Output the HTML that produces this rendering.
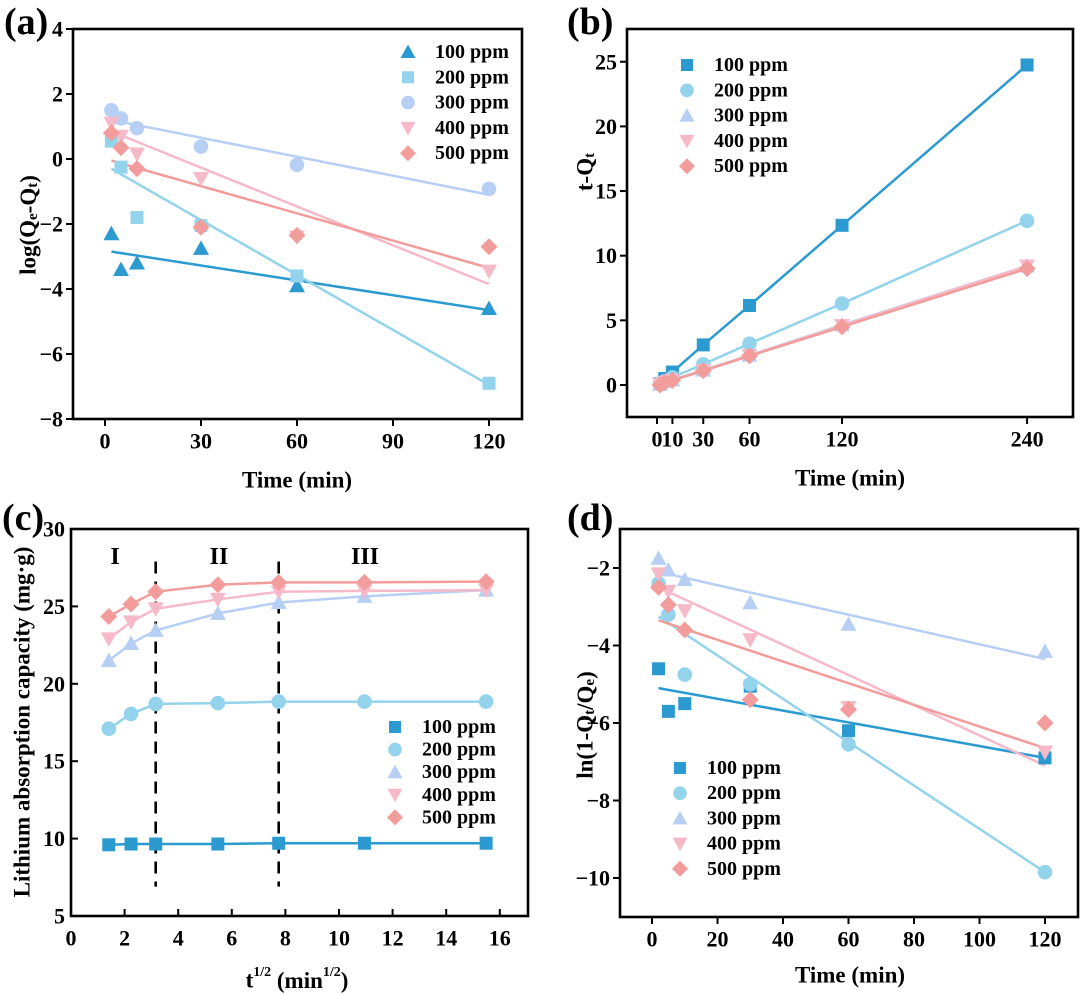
<!DOCTYPE html>
<html><head><meta charset="utf-8">
<style>
html,body{margin:0;padding:0;background:#fff;}
svg{display:block;font-family:"Liberation Serif",serif;font-weight:bold;}
</style></head>
<body>
<svg id="fig" width="1080" height="994" viewBox="0 0 1080 994" xmlns="http://www.w3.org/2000/svg">
<text x="4" y="34" font-size="38">(a)</text>
<text x="567" y="34" font-size="38">(b)</text>
<text x="2" y="530" font-size="38">(c)</text>
<text x="567" y="530" font-size="38">(d)</text>
</svg>
<script>
const NS='http://www.w3.org/2000/svg';
const svg=document.getElementById('fig');
const COLORS=['#2a9ad0','#93d3ec','#b7cff5','#f6b9c7','#f29c9c'];
const LEGEND=['100 ppm','200 ppm','300 ppm','400 ppm','500 ppm'];

// ---- Panel (a) data: pseudo-first-order ----
const aTimes=[2,5,10,30,60,120];
const a100=[-2.3,-3.4,-3.2,-2.75,-3.9,-4.6];
const a200=[0.55,-0.25,-1.8,-2.05,-3.6,-6.9];
const a300=[1.5,1.25,0.95,0.38,-0.18,-0.92];
const a400=[1.1,0.7,0.15,-0.6,-2.4,-3.45];
const a500=[0.8,0.35,-0.3,-2.1,-2.35,-2.7];
const aFitStart=[-2.85,-0.3,1.2,0.85,-0.05];
const aFitEnd=[-4.65,-6.95,-1.1,-3.85,-3.35];
const aXTicks=[0,30,60,90,120];
const aYTicks=[4,2,0,-2,-4,-6,-8];

// ---- Panel (b) data: pseudo-second-order ----
const bTimes=[2,5,10,30,60,120,240];
const b100=[0.1,0.5,1.0,3.1,6.15,12.35,24.75];
const b200=[0.1,0.3,0.6,1.6,3.2,6.3,12.7];
const b300=[0.05,0.25,0.4,1.15,2.3,4.65,9.2];
const b400=[0.05,0.22,0.38,1.12,2.28,4.6,9.2];
const b500=[0.0,0.2,0.35,1.1,2.25,4.5,9.0];
const bXTicks=[0,10,30,60,120,240];
const bXLabels=['0','10','30','60','120','240'];
const bYTicks=[0,5,10,15,20,25];

// ---- Panel (c) data: intraparticle diffusion ----
const cX=[1.41,2.24,3.16,5.48,7.75,10.95,15.49];
const c100=[9.6,9.65,9.65,9.65,9.7,9.7,9.7];
const c200=[17.1,18.05,18.7,18.75,18.85,18.85,18.85];
const c300=[21.5,22.6,23.45,24.55,25.25,25.65,26.05];
const c400=[22.9,24.0,24.85,25.45,25.95,26.0,26.05];
const c500=[24.35,25.15,25.95,26.4,26.55,26.55,26.6];
const cDividers=[3.16,7.75];
const cXTicks=[0,2,4,6,8,10,12,14,16];
const cYTicks=[5,10,15,20,25,30];

// ---- Panel (d) data: liquid film diffusion ----
const dTimes=[2,5,10,30,60,120];
const d100=[-4.6,-5.7,-5.5,-5.05,-6.2,-6.9];
const d200=[-2.4,-3.2,-4.75,-5.0,-6.55,-9.85];
const d300=[-1.75,-2.05,-2.3,-2.9,-3.45,-4.15];
const d400=[-2.15,-2.6,-3.1,-3.85,-5.6,-6.75];
const d500=[-2.5,-2.95,-3.6,-5.4,-5.65,-6.0];
const dFitStart=[-5.1,-3.25,-2.1,-2.5,-3.35];
const dFitEnd=[-6.9,-9.85,-4.35,-7.1,-6.65];
const dXTicks=[0,20,40,60,80,100,120];
const dYTicks=[-2,-4,-6,-8,-10];

function el(tag,attrs,parent){const e=document.createElementNS(NS,tag);for(const k in attrs)e.setAttribute(k,attrs[k]);(parent||svg).appendChild(e);return e;}
function txt(x,y,s,size,anchor,parent){const t=el('text',{x:x,y:y,'font-size':size,'text-anchor':anchor||'middle','dominant-baseline':'central'},parent);t.textContent=s;return t;}

function marker(g,shape,x,y,color,s){
  s=s||6.5;let m;
  if(shape==='sq')m=el('rect',{x:x-s,y:y-s,width:2*s,height:2*s,fill:color},g);
  else if(shape==='ci')m=el('circle',{cx:x,cy:y,r:s+0.8,fill:color},g);
  else if(shape==='up')m=el('polygon',{points:`${x},${y-s-1.5} ${x+s+1.5},${y+s} ${x-s-1.5},${y+s}`,fill:color},g);
  else if(shape==='dn')m=el('polygon',{points:`${x},${y+s+1.5} ${x+s+1.5},${y-s} ${x-s-1.5},${y-s}`,fill:color},g);
  else m=el('polygon',{points:`${x},${y-s-2} ${x+s+2},${y} ${x},${y+s+2} ${x-s-2},${y}`,fill:color},g);
  return m;
}

function axes(name,L,R,T,B,xs,ys,xt,xl,yt,inward){
  const g=el('g',{});
  
  
  el('rect',{x:L,y:T,width:R-L,height:B-T,fill:'none',stroke:'#000','stroke-width':2.6},g);
  const d=inward?-7:7;
  xt.forEach((v,i)=>{const x=xs(v);el('line',{x1:x,y1:B,x2:x,y2:B+d,stroke:'#000','stroke-width':2},g);
    const t=txt(x,B+22,xl?xl[i]:String(v),22,'middle',g);});
  yt.forEach(v=>{const y=ys(v);el('line',{x1:L,y1:y,x2:L-d,y2:y,stroke:'#000','stroke-width':2},g);
    const t=txt(L-(inward?6:10),y,String(v).replace('-','\u2212'),22,'end',g);});
}

function legend(name,x,y0,dy,shapes){
  const g=el('g',{});
  
  
  LEGEND.forEach((s,i)=>{const y=y0+i*dy;
    const e=el('g',{},g);
    
    
    marker(e,shapes[i],x,y,COLORS[i],6);
    txt(x+27,y,s,20,'start',e);});
}

function series(name,xs,ys,X,Y,shape,color,connect){
  const g=el('g',{});
  
  
  if(connect)el('polyline',{points:X.map((v,i)=>xs(v)+','+ys(Y[i])).join(' '),fill:'none',stroke:color,'stroke-width':2.5},g);
  X.forEach((v,i)=>marker(g,shape,xs(v),ys(Y[i]),color));
}
function fit(name,xs,ys,x0,x1,y0,y1,color){
  const l=el('line',{x1:xs(x0),y1:ys(y0),x2:xs(x1),y2:ys(y1),stroke:color,'stroke-width':2.5});
  
  
}

// Panel a
{const L=73,R=522,T=29,B=419;
 const xs=v=>105+v*3.2, ys=v=>159-v*32.5;
 axes('panel-a',L,R,T,B,xs,ys,aXTicks,null,aYTicks,false);
 const sets=[a100,a200,a300,a400,a500], sh=['up','sq','ci','dn','di'];
 sets.forEach((s,i)=>fit('panel-a-fit-'+(i+1)*100,xs,ys,2,120,aFitStart[i],aFitEnd[i],COLORS[i]));
 sets.forEach((s,i)=>series('panel-a-series-'+(i+1)*100,xs,ys,aTimes,s,sh[i],COLORS[i],false));
 legend('panel-a',408,52,25.3,sh);
 txt(297,480,'Time (min)',23,'middle');
 const t=el('text',{transform:'translate(28,225) rotate(-90)','font-size':23,'text-anchor':'middle','dominant-baseline':'central'});
 t.innerHTML='log(Q<tspan font-size="15" dy="5">e</tspan><tspan dy="-5">-Q</tspan><tspan font-size="15" dy="5">t</tspan><tspan dy="-5">)</tspan>';
}
// Panel b
{const L=627,R=1073,T=29,B=417;
 const xs=v=>657+v*1.542, ys=v=>385-v*12.93;
 axes('panel-b',L,R,T,B,xs,ys,bXTicks,bXLabels,bYTicks,false);
 const sets=[b100,b200,b300,b400,b500], sh=['sq','ci','up','dn','di'];
 sets.forEach((s,i)=>series('panel-b-series-'+(i+1)*100,xs,ys,bTimes,s,sh[i],COLORS[i],true));
 legend('panel-b',687,65,25.3,sh);
 txt(850,478,'Time (min)',23,'middle');
 const t=el('text',{transform:'translate(585,172) rotate(-90)','font-size':23,'text-anchor':'middle','dominant-baseline':'central'});
 t.innerHTML='t-Q<tspan font-size="15" dy="5">t</tspan>';
}
// Panel c
{const L=71,R=528,T=529,B=916;
 const xs=v=>71+v*26.8, ys=v=>916-(v-5)*15.48;
 axes('panel-c',L,R,T,B,xs,ys,cXTicks,null,cYTicks,true);
 cDividers.forEach(v=>{const l=el('line',{x1:xs(v),y1:ys(27.9),x2:xs(v),y2:ys(6.9),stroke:'#000','stroke-width':2.6,'stroke-dasharray':'12,8'});
   });
 txt(115,557,'I',24,'middle');txt(219,557,'II',24,'middle');txt(365,557,'III',24,'middle');
 const sets=[c100,c200,c300,c400,c500], sh=['sq','ci','up','dn','di'];
 sets.forEach((s,i)=>series('panel-c-series-'+(i+1)*100,xs,ys,cX,s,sh[i],COLORS[i],true));
 legend('panel-c',395,727,22.6,sh);
 const tx=el('text',{x:297,y:980,'font-size':23,'text-anchor':'middle','dominant-baseline':'central'});
 tx.innerHTML='t<tspan font-size="14" dy="-8">1/2</tspan><tspan dy="8"> (min</tspan><tspan font-size="14" dy="-8">1/2</tspan><tspan dy="8">)</tspan>';
 const t=el('text',{transform:'translate(22,722) rotate(-90)','font-size':23,'text-anchor':'middle','dominant-baseline':'central'});
 t.textContent='Lithium absorption capacity (mg\u00b7g)';
}
// Panel d
{const L=620,R=1078,T=529,B=917;
 const xs=v=>652+v*3.275, ys=v=>568+(-2-v)*38.75;
 axes('panel-d',L,R,T,B,xs,ys,dXTicks,null,dYTicks,false);
 const sets=[d100,d200,d300,d400,d500], sh=['sq','ci','up','dn','di'];
 sets.forEach((s,i)=>fit('panel-d-fit-'+(i+1)*100,xs,ys,2,120,dFitStart[i],dFitEnd[i],COLORS[i]));
 sets.forEach((s,i)=>series('panel-d-series-'+(i+1)*100,xs,ys,dTimes,s,sh[i],COLORS[i],false));
 legend('panel-d',680,768,25.2,sh);
 txt(850,975,'Time (min)',23,'middle');
 const t=el('text',{transform:'translate(585,725) rotate(-90)','font-size':23,'text-anchor':'middle','dominant-baseline':'central'});
 t.innerHTML='ln(1-Q<tspan font-size="15" dy="5">t</tspan><tspan dy="-5">/Q</tspan><tspan font-size="15" dy="5">e</tspan><tspan dy="-5">)</tspan>';
}
</script>
</body></html>
